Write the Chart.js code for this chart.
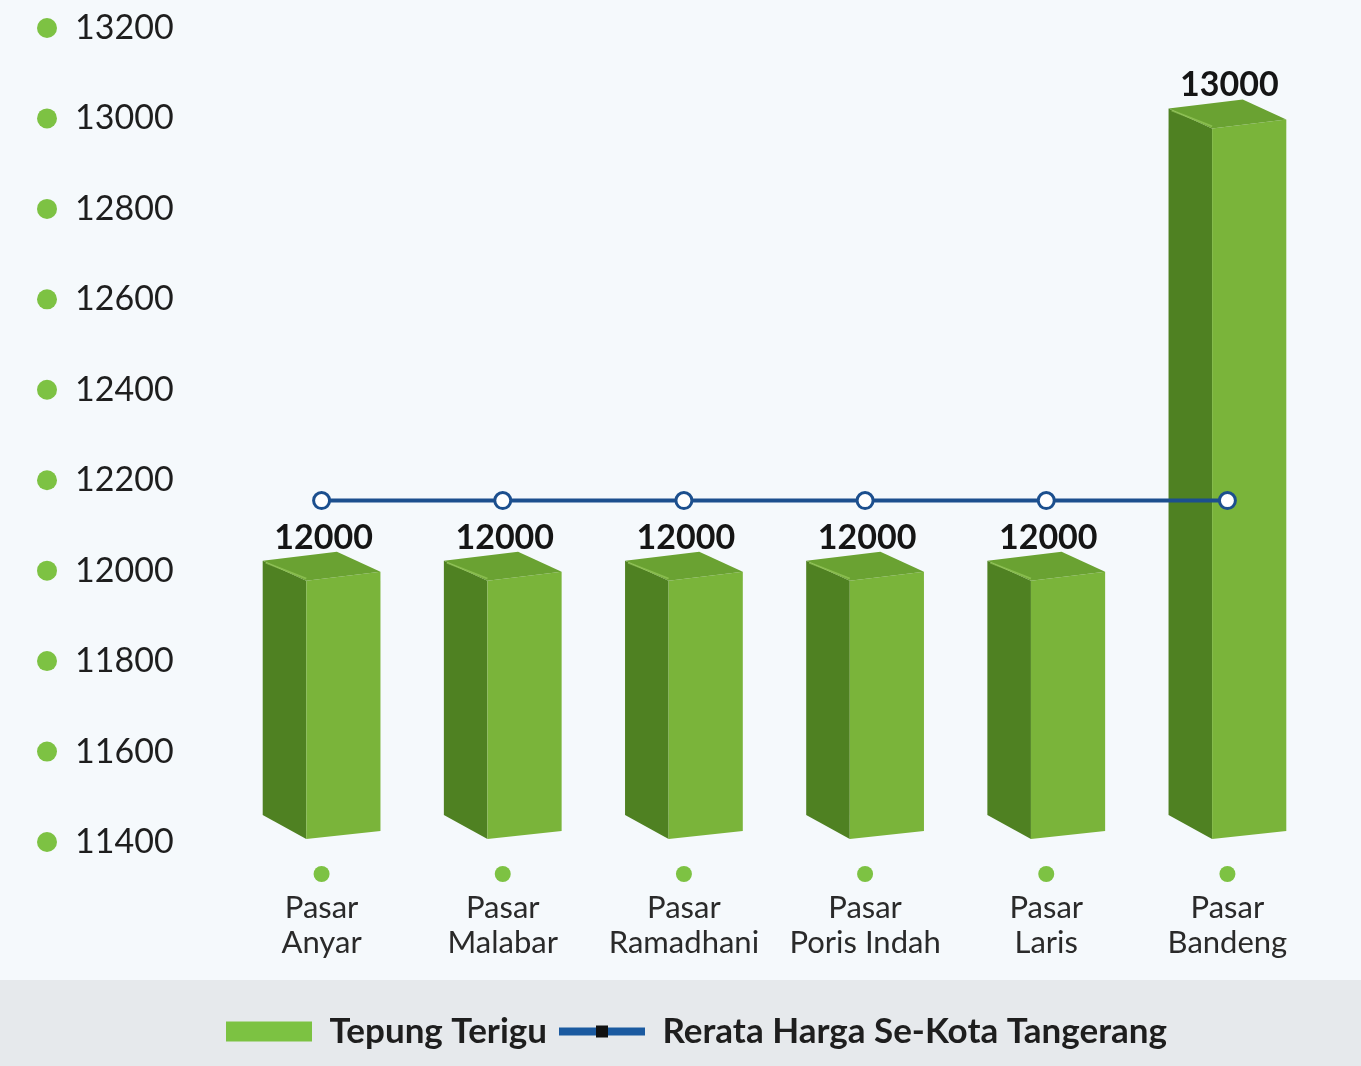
<!DOCTYPE html>
<html>
<head>
<meta charset="utf-8">
<script src="https://cdn.jsdelivr.net/npm/chart.js@4"></script>
<style>
  html, body { margin: 0; padding: 0; background: #f5f9fc; }
  #wrap { width: 1361px; height: 1066px; }
</style>
</head>
<body>
<div id="wrap"><canvas id="chart" width="1361" height="1066"></canvas></div>
<script>
// Harga tepung terigu per pasar
const categories = [
    ['Pasar', 'Anyar'],
    ['Pasar', 'Malabar'],
    ['Pasar', 'Ramadhani'],
    ['Pasar', 'Poris Indah'],
    ['Pasar', 'Laris'],
    ['Pasar', 'Bandeng']
];
const tepungTerigu = [12000, 12000, 12000, 12000, 12000, 13000];
const rerataHarga = [12155, 12155, 12155, 12155, 12155, 12155];
const yMin = 11400;
const yMax = 13200;
const yStep = 200;

const FONT = 'Lato, "Noto Sans", sans-serif';
const GREEN_DOT = '#7dc243';
const BLUE = '#1c4f8e';

// legend symbols
function makeSymbol(kind) {
    const c = document.createElement('canvas');
    c.width = 86; c.height = 22;
    const g = c.getContext('2d');
    if (kind === 'bar') {
        g.fillStyle = '#7cc242';
        g.fillRect(0, 1, 86, 20);
    } else {
        g.fillStyle = '#1b5aa0';
        g.fillRect(0, 7, 86, 8);
        g.fillStyle = '#111';
        g.fillRect(37, 5, 12, 12);
    }
    return c;
}
const barSymbol = makeSymbol('bar');
const lineSymbol = makeSymbol('line');

// 3D bars, value labels and green dots on the axes
const decorPlugin = {
    id: 'decor',
    beforeDraw(chart) {
        const ctx = chart.ctx;
        const lg = chart.legend;
        ctx.save();
        ctx.fillStyle = '#e6e9ec';
        ctx.fillRect(0, lg.top - 22, chart.width, chart.height - lg.top + 22);
        ctx.restore();
    },
    beforeDatasetDraw(chart, args) {
        if (args.index !== 0) return;
        const ctx = chart.ctx;
        const meta = chart.getDatasetMeta(0);
        ctx.save();
        meta.data.forEach(el => {
            const p = el.getProps(['x', 'y', 'base', 'width'], true);
            const L = p.x - p.width / 2, R = p.x + p.width / 2;
            const S = L + p.width * 0.37;
            const y = p.y, b = p.base;
            // side face
            ctx.fillStyle = '#4f8122';
            ctx.beginPath();
            ctx.moveTo(L, y - 10); ctx.lineTo(S, y + 10);
            ctx.lineTo(S, b - 3); ctx.lineTo(L, b - 27);
            ctx.closePath(); ctx.fill();
            // front face
            ctx.fillStyle = '#7ab43a';
            ctx.beginPath();
            ctx.moveTo(S, y + 10); ctx.lineTo(R, y + 1);
            ctx.lineTo(R, b - 11); ctx.lineTo(S, b - 3);
            ctx.closePath(); ctx.fill();
            // top face
            ctx.fillStyle = '#6aa232';
            ctx.beginPath();
            ctx.moveTo(L, y - 10); ctx.lineTo(L + (R - S), y - 19);
            ctx.lineTo(R, y + 1); ctx.lineTo(S, y + 10);
            ctx.closePath(); ctx.fill();
            // edge highlight
            ctx.strokeStyle = 'rgba(150,200,90,0.7)';
            ctx.lineWidth = 2;
            ctx.beginPath();
            ctx.moveTo(L + 3, y - 8); ctx.lineTo(S, y + 8);
            ctx.stroke();
        });
        ctx.restore();
        return false;
    },
    afterDatasetsDraw(chart) {
        const ctx = chart.ctx;
        const meta = chart.getDatasetMeta(0);
        ctx.save();
        ctx.font = 'bold 34px ' + FONT;
        ctx.fillStyle = '#151515';
        ctx.textAlign = 'center';
        ctx.textBaseline = 'middle';
        meta.data.forEach((el, i) => {
            ctx.fillText(String(tepungTerigu[i]), el.x + 2, el.y - 33);
        });
        ctx.restore();
    },
    afterDraw(chart) {
        const ctx = chart.ctx;
        const ys = chart.scales.y, xs = chart.scales.x;
        ctx.save();
        ctx.fillStyle = GREEN_DOT;
        ys.ticks.forEach((t, i) => {
            ctx.beginPath();
            ctx.arc(ys.left - 28, ys.getPixelForTick(i), 10, 0, Math.PI * 2);
            ctx.fill();
        });
        xs.ticks.forEach((t, i) => {
            ctx.beginPath();
            ctx.arc(xs.getPixelForTick(i), chart.chartArea.bottom + 32, 8, 0, Math.PI * 2);
            ctx.fill();
        });
        ctx.restore();
    }
};

new Chart(document.getElementById('chart'), {
    data: {
        labels: categories,
        datasets: [
            {
                type: 'bar',
                label: 'Tepung Terigu',
                data: tepungTerigu,
                base: yMin,
                backgroundColor: '#7ab43a',
                categoryPercentage: 1,
                barPercentage: 0.65,
                order: 1
            },
            {
                type: 'line',
                label: 'Rerata Harga Se-Kota Tangerang',
                data: rerataHarga,
                borderColor: BLUE,
                borderWidth: 4,
                pointRadius: 8,
                pointBorderWidth: 3,
                pointBackgroundColor: '#ffffff',
                pointBorderColor: BLUE,
                order: 0
            }
        ]
    },
    options: {
        responsive: false,
        animation: false,
        layout: { padding: { left: 75, right: 43, top: 28, bottom: 7 } },
        scales: {
            x: {
                grid: { display: false },
                border: { display: false },
                ticks: {
                    color: '#2a2a2a',
                    font: { family: FONT, size: 31, lineHeight: 1.14 },
                    padding: 40,
                    maxRotation: 0
                },
                afterFit(scale) { scale.height = 160; }
            },
            y: {
                min: yMin,
                max: yMax,
                grid: { display: false },
                border: { display: false },
                ticks: {
                    stepSize: yStep,
                    color: '#1e1e1e',
                    font: { family: FONT, size: 34 },
                    crossAlign: 'far',
                    callback: v => String(v)
                },
                afterFit(scale) { scale.width = 156; }
            }
        },
        plugins: {
            tooltip: { enabled: false },
            legend: {
                position: 'bottom',
                labels: {
                    usePointStyle: true,
                    pointStyleWidth: 86,
                    padding: 12,
                    color: '#1e1e1e',
                    font: { family: FONT, size: 35, weight: 'bold' },
                    generateLabels() {
                        return [
                            { text: 'Tepung Terigu', pointStyle: barSymbol, datasetIndex: 0, fontColor: '#1e1e1e' },
                            { text: 'Rerata Harga Se-Kota Tangerang', pointStyle: lineSymbol, datasetIndex: 1, fontColor: '#1e1e1e' }
                        ];
                    }
                }
            }
        }
    },
    plugins: [decorPlugin]
});
</script>
</body>
</html>
